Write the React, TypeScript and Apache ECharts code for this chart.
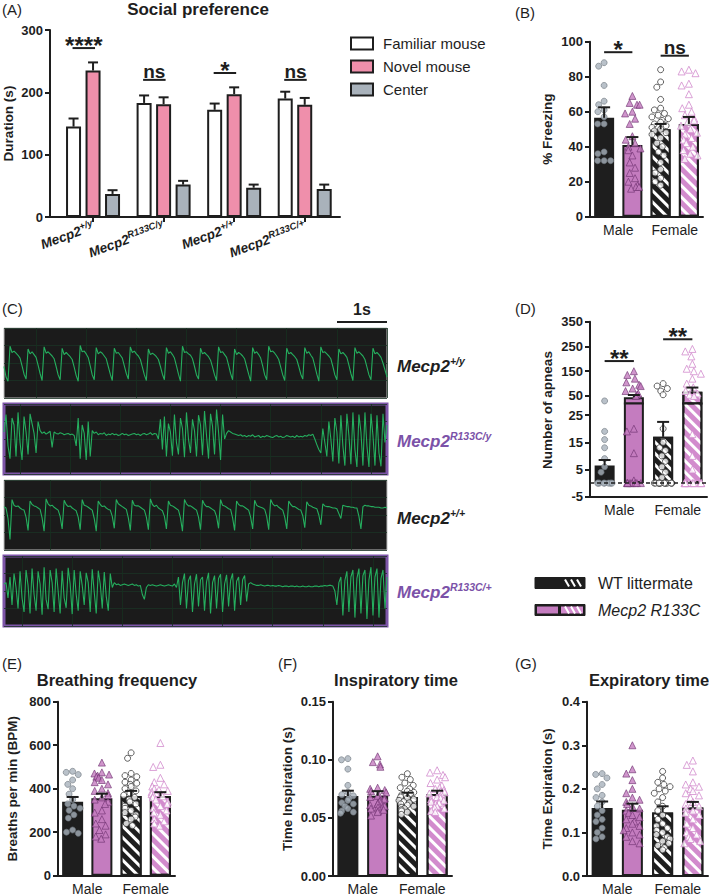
import React, { useEffect, useRef } from 'react';
import * as echarts from 'echarts';

const FONT = "'Liberation Sans', Arial, Helvetica, sans-serif";
const INK = '#1e1e1e';

// ---------------- Panel A : social preference ----------------
const genotypeSup = ['+/y', 'R133C/y', '+/+', 'R133C/+'];
const genotypeIdx = [0, 1, 2, 3];
const socialNames = ['Familiar mouse', 'Novel mouse', 'Center'];
const familiarMean = [145, 183, 172, 190];
const familiarTop = [158, 195, 182, 201];
const novelMean = [235, 181, 197, 180];
const novelTop = [248, 192, 208, 191];
const centerMean = [37, 52, 47, 45];
const centerTop = [43, 58, 52, 52];
const sigAGroup = [0, 1, 2, 3];
const sigAY = [271, 220, 231, 220];
const sigALabel = ['****', 'ns', '*', 'ns'];

// ---------------- shared group layout ----------------
const sexLabels = ['Male', 'Female'];
const groupOrder = ['WT male', 'R133C male', 'WT female', 'R133C female'];

// ---------------- Panel B : % freezing ----------------
const freezeMean = [56.5, 41, 50, 53];
const freezeTop = [62.5, 45.5, 53, 57];
const freezeWTm = [88, 86, 75, 66, 64, 61, 60, 57, 53, 53, 37, 36, 32, 32, 32];
const freezeMutM = [69, 65, 64, 64, 60, 59, 56, 53, 46, 44, 42, 40, 39, 38, 35, 31, 28, 25, 22, 20, 18, 17, 17, 16];
const freezeWTf = [84, 77, 74, 67, 62, 61, 59, 58, 57, 56, 55, 54, 53, 52, 51, 50, 49, 48, 47, 45, 42, 40, 37, 35, 31, 27, 25, 22, 20, 18];
const freezeMutF = [84, 83, 82, 76, 75, 70, 64, 62, 60, 58, 56, 55, 54, 52, 50, 48, 47, 45, 44, 42, 40, 38, 36, 35, 33];
const sigBFrom = [0, 2];
const sigBTo = [1, 3];
const sigBY = [94, 92];
const sigBLabel = ['*', 'ns'];

// ---------------- Panel D : apneas (broken axis) ----------------
const apneaMean = [6.5, 45, 17, 67];
const apneaTop = [8.5, 54, 22.5, 84];
const apneaWTm = [30, 19, 16, 13, 9, 6, 4, 0, 0, 0, 0, 0, 0, 0, 0, 0];
const apneaMutM = [150, 135, 120, 105, 95, 90, 80, 70, 60, 55, 50, 20, 19, 11, 1, 0, 0, 0, 0, 0, 0, 0, 0];
const apneaWTf = [100, 90, 80, 70, 55, 20, 15, 13, 12, 10, 8, 6, 4, 2, 0, 0, 0, 0, 0, 0, 0, 0, 0, 0, 0, 0, 0, 0, 0];
const apneaMutF = [240, 230, 210, 180, 160, 150, 140, 120, 100, 85, 70, 60, 55, 50, 18, 10, 5, 0, 0, 0, 0, 0, 0, 0, 0, 0, 0, 0];
const apneaLowTicks = [-5, 5, 15, 25];
const apneaHighTicks = [50, 150, 250, 350];
const sigDFrom = [0, 2];
const sigDTo = [1, 3];
const sigDY = [191, 279];
const sigDLabel = ['**', '**'];

// ---------------- Panel E : breathing frequency ----------------
const bpmMean = [340, 356, 366, 366];
const bpmTop = [362, 377, 390, 384];
const bpmWTm = [480, 475, 465, 440, 420, 400, 375, 350, 330, 320, 310, 300, 280, 265, 210, 200, 195];
const bpmMutM = [520, 475, 470, 465, 460, 455, 450, 440, 430, 420, 400, 390, 380, 370, 360, 350, 340, 330, 300, 290, 260, 240, 230, 210, 190, 180, 170];
const bpmWTf = [565, 540, 470, 460, 455, 440, 430, 425, 420, 410, 400, 390, 380, 370, 360, 350, 340, 330, 320, 310, 300, 290, 280, 270, 260, 240, 230];
const bpmMutF = [610, 510, 500, 450, 430, 420, 410, 400, 395, 390, 385, 380, 375, 370, 365, 360, 350, 340, 330, 320, 310, 300, 290, 280, 260, 250, 240, 230];

// ---------------- Panel F : inspiratory time ----------------
const tiMean = [0.0688, 0.069, 0.068, 0.0705];
const tiTop = [0.0734, 0.073, 0.0717, 0.0734];
const tiWTm = [0.101, 0.1, 0.092, 0.078, 0.072, 0.07, 0.069, 0.067, 0.065, 0.063, 0.062, 0.06, 0.058, 0.056, 0.055, 0.054];
const tiMutM = [0.103, 0.098, 0.096, 0.094, 0.076, 0.075, 0.074, 0.073, 0.072, 0.07, 0.069, 0.068, 0.067, 0.066, 0.065, 0.064, 0.063, 0.062, 0.061, 0.06, 0.059, 0.058, 0.057, 0.056, 0.055, 0.052];
const tiWTf = [0.088, 0.085, 0.083, 0.08, 0.078, 0.076, 0.075, 0.073, 0.072, 0.071, 0.07, 0.069, 0.068, 0.067, 0.066, 0.065, 0.064, 0.063, 0.062, 0.061, 0.06, 0.059, 0.058, 0.057, 0.056, 0.055, 0.053];
const tiMutF = [0.091, 0.089, 0.087, 0.085, 0.083, 0.08, 0.078, 0.076, 0.075, 0.074, 0.073, 0.072, 0.071, 0.07, 0.069, 0.068, 0.067, 0.066, 0.065, 0.064, 0.063, 0.062, 0.06, 0.059, 0.058, 0.056, 0.055];

// ---------------- Panel G : expiratory time ----------------
const teMean = [0.156, 0.152, 0.146, 0.157];
const teTop = [0.171, 0.166, 0.16, 0.17];
const teWTm = [0.235, 0.233, 0.225, 0.21, 0.2, 0.185, 0.18, 0.17, 0.16, 0.15, 0.14, 0.13, 0.125, 0.11, 0.1, 0.09, 0.085];
const teMutM = [0.3, 0.245, 0.235, 0.22, 0.2, 0.19, 0.18, 0.175, 0.17, 0.165, 0.16, 0.155, 0.15, 0.145, 0.14, 0.135, 0.13, 0.125, 0.12, 0.115, 0.11, 0.105, 0.1, 0.095, 0.09, 0.08, 0.075];
const teWTf = [0.24, 0.225, 0.215, 0.21, 0.205, 0.2, 0.195, 0.19, 0.18, 0.17, 0.16, 0.15, 0.14, 0.13, 0.12, 0.115, 0.11, 0.105, 0.1, 0.095, 0.09, 0.085, 0.08, 0.075, 0.07, 0.065, 0.06];
const teMutF = [0.265, 0.255, 0.24, 0.215, 0.21, 0.205, 0.2, 0.195, 0.19, 0.185, 0.18, 0.17, 0.165, 0.16, 0.155, 0.15, 0.145, 0.14, 0.13, 0.12, 0.11, 0.1, 0.095, 0.09, 0.085, 0.08, 0.075];

// ---------------- Panel C : plethysmography traces (40 ms samples) ----------------
const traceSup = ['+/y', 'R133C/y', '+/+', 'R133C/+'];
const traceWTm = [45, 30,
  24, 74, 65, 67, 64, 61, 57, 46, 34, 27, 70, 63, 66, 62, 58, 47, 35,
  25, 73, 64, 66, 63, 60, 56, 45, 33, 26, 71, 62, 65, 62, 59, 55, 44, 32,
  24, 75, 66, 67, 63, 58, 46, 33, 26, 72, 63, 66, 64, 60, 56, 45, 34,
  25, 71, 64, 65, 61, 57, 46, 35, 27, 73, 65, 67, 63, 60, 55, 44, 33,
  25, 70, 62, 64, 62, 59, 55, 45, 34, 26, 72, 64, 66, 62, 57, 46, 34,
  24, 74, 65, 66, 63, 61, 56, 45, 33, 27, 71, 63, 65, 62, 59, 54, 44, 33,
  25, 73, 65, 66, 62, 58, 47, 35, 26, 70, 62, 65, 63, 60, 56, 45, 34,
  24, 72, 64, 66, 62, 57, 46, 33, 26, 74, 66, 67, 64, 60, 55, 44, 33,
  25, 71, 63, 65, 62, 59, 55, 45, 34, 27, 72, 64, 66, 61, 57, 46, 34,
  24, 73, 65, 66, 63, 60, 56, 45, 33, 26, 70, 63, 65, 62, 58, 47, 35,
  25, 72, 64, 66, 63, 60, 55, 44, 33, 26, 71, 63, 65, 62, 58, 50, 40, 30];
const traceMutM = [60, 85, 40, 22, 80, 70, 25, 88, 45, 20, 82, 60, 28, 86, 72, 58, 30, 75, 62,
  58, 60, 57, 59, 61, 38, 60, 58, 57, 59, 58, 56, 57, 58, 56, 57, 55,
  40, 80, 22, 70, 58, 20, 75, 25, 62,
  58, 60, 56, 58, 57, 59, 55, 57, 56, 58, 56, 57, 55, 56, 58, 56, 57, 55, 56, 57, 58, 56, 57, 55, 57, 58, 56, 57, 59, 56, 58, 57,
  50, 78, 35, 82, 25, 72, 60, 26, 85, 45, 28, 80, 65, 24, 88, 50, 30, 78, 62, 25, 84, 70, 27, 90, 55, 22, 86, 68, 28, 92, 60, 20, 85, 50, 58, 62, 60,
  58, 57, 56, 55, 56, 54, 55, 53, 55, 54, 56, 53, 54, 55, 52, 54, 53, 55, 54, 53, 52, 54, 55, 53, 54, 52, 53, 55, 54, 53, 54, 52, 55, 53, 54, 53, 55, 54, 56, 55, 57,
  50, 42, 35, 30, 65, 45, 25, 75, 50, 18, 80, 60, 15, 84, 40, 12, 86, 55, 14, 88, 35, 10, 85, 60, 12, 88, 40, 10, 86, 55, 12, 84, 30, 11, 86, 45, 70];
const traceWTf = [62, 60,
  45, 15, 72, 64, 62, 63, 60, 58, 57, 47, 28, 70, 65, 63, 62, 60, 58,
  46, 27, 73, 66, 63, 64, 61, 59, 57, 48, 30, 71, 65, 62, 63, 60, 58, 56,
  47, 29, 72, 64, 63, 61, 59, 57, 45, 27, 70, 65, 62, 63, 60, 58, 57,
  48, 31, 72, 66, 64, 62, 60, 58, 46, 28, 71, 64, 63, 63, 61, 59, 57,
  47, 29, 73, 65, 62, 64, 60, 58, 56, 48, 30, 70, 64, 63, 61, 59, 57,
  46, 27, 72, 66, 63, 63, 61, 59, 57, 47, 29, 71, 65, 62, 62, 60, 58, 56,
  48, 31, 72, 64, 63, 61, 59, 58, 46, 28, 70, 65, 63, 63, 61, 59, 57,
  47, 30, 71, 64, 62, 61, 60, 58, 48, 29, 72, 66, 63, 64, 61, 59, 57,
  47, 30, 70, 65, 62, 62, 60, 58, 57, 49, 32, 69, 64, 63, 61, 60, 59,
  50, 36, 66, 63, 62, 62, 61, 60, 60, 59, 52, 45, 64, 63, 62, 62, 61, 61, 60, 60,
  48, 30, 62, 64, 63, 63, 62, 62, 61, 61, 61, 60, 60, 61, 60];
const traceMutF = [60, 62, 40, 70, 30, 75, 55, 25, 78, 40, 20, 80, 58, 18, 82, 45, 22, 78, 60, 16,
  84, 38, 24, 80, 62, 20, 82, 50, 18, 79, 40, 26, 83, 60, 17, 80, 45, 22, 78, 58,
  30, 76, 62, 20, 81, 48, 18, 79, 60, 25, 77, 42, 22, 75, 55, 62,
  59, 60, 58, 59, 60, 59, 58, 59, 60, 58, 59, 57, 58, 45, 38, 55, 59, 58, 59, 58, 57, 58, 59, 58, 57, 58, 59, 58, 57, 60,
  55, 70, 30, 62, 75, 25, 65, 72, 20, 60, 74, 28, 66, 70, 22, 63, 76, 18, 62, 72,
  25, 68, 74, 20, 60, 73, 28, 65, 75, 22, 64, 70, 30, 66, 72, 35, 60, 62,
  60, 59, 58, 58, 59, 58, 57, 58, 58, 57, 58, 57, 57, 58, 57, 56, 57, 57, 56, 57,
  57, 56, 57, 56, 56, 57, 56, 56, 57, 56, 56, 57, 57, 56, 57, 57, 58, 57, 58, 58, 57,
  50, 30, 62, 70, 15, 65, 78, 20, 70, 80, 12, 68, 82, 18, 72, 80, 10, 66, 84, 15,
  70, 82, 12, 68, 80, 25, 70];

// ---------------- styles ----------------
const STRIPES = { symbol: 'rect', symbolSize: 1, dashArrayX: [1, 0], dashArrayY: [3, 5], rotation: Math.PI / 4, color: '#ffffff' };
const BAR_STYLES: any[] = [
  { color: '#1e1e1e', borderColor: INK, borderWidth: 2 },
  { color: '#c47cbf', borderColor: INK, borderWidth: 2 },
  { color: '#1e1e1e', borderColor: INK, borderWidth: 2, decal: STRIPES },
  { color: '#d28bcd', borderColor: INK, borderWidth: 2, decal: STRIPES },
];
const DOT_STYLES: any[] = [
  { symbol: 'circle', symbolSize: 6, itemStyle: { color: '#a8b1bb', borderColor: '#6f7780', borderWidth: 0.8 } },
  { symbol: 'triangle', symbolSize: 7, itemStyle: { color: '#c47cbf', borderColor: '#6e3170', borderWidth: 0.8 } },
  { symbol: 'circle', symbolSize: 6, itemStyle: { color: '#ffffff', borderColor: '#3a3a3a', borderWidth: 1 } },
  { symbol: 'triangle', symbolSize: 7, itemStyle: { color: '#ffffff', borderColor: '#d28bcd', borderWidth: 1 } },
];
const A_COLORS = ['#ffffff', '#ef8fab', '#a9b2bb'];
const A_STEP = 19.5;
const TRACE_TOPS = [328, 404, 480, 556];
const TRACE_BORDER = ['#bdbdbd', '#7d55a8', '#bdbdbd', '#7d55a8'];
const TRACE_BW = [1, 3, 1, 3];
const TRACE_PHASE = [16, 8, 23, 9];
const TRACE_LABEL_Y = [365, 440, 517, 591];
const TRACE_LABEL_COLOR = [INK, '#7b52a8', INK, '#7b52a8'];

const AXIS_LINE = { show: true, onZero: false, lineStyle: { color: INK, width: 2 } };
const Y_TICK = { show: true, length: 5, lineStyle: { color: INK, width: 2 } };
const Y_LABEL = { fontFamily: FONT, fontSize: 13, fontWeight: 'bold', color: INK, margin: 7 };
const Y_NAME = { fontFamily: FONT, fontSize: 13.5, fontWeight: 'bold', color: INK };

const errRender = (cap: number) => (params: any, api: any) => {
  const x = api.value(0);
  const lo = api.value(1);
  const hi = api.value(2);
  const off = api.value(3) || 0;
  const p0 = api.coord([x, lo]);
  const p1 = api.coord([x, hi]);
  const cx = p0[0] + off;
  return {
    type: 'group',
    children: [
      { type: 'line', shape: { x1: cx, y1: p0[1], x2: cx, y2: p1[1] }, style: { stroke: INK, lineWidth: 2 } },
      { type: 'line', shape: { x1: cx - cap, y1: p1[1], x2: cx + cap, y2: p1[1] }, style: { stroke: INK, lineWidth: 2 } },
    ],
  };
};

const sigRender = (labels: string[]) => (params: any, api: any) => {
  const a = api.coord([api.value(0), api.value(2)]);
  const b = api.coord([api.value(1), api.value(2)]);
  const xa = a[0] + (api.value(4) || 0);
  const xb = b[0] + (api.value(5) || 0);
  const label = labels[api.value(3)];
  const star = label.indexOf('*') >= 0;
  return {
    type: 'group',
    children: [
      { type: 'line', shape: { x1: xa, y1: a[1], x2: xb, y2: a[1] }, style: { stroke: INK, lineWidth: 2 } },
      {
        type: 'text',
        style: {
          text: label, x: (xa + xb) / 2, y: a[1] - (star ? 3 : 8),
          textAlign: 'center', textVerticalAlign: 'middle', align: 'center', verticalAlign: 'middle',
          font: `bold ${star ? 24 : 19}px ${FONT}`, fill: INK,
        },
      },
    ],
  };
};

function addPanel(o: any, p: any) {
  const gi = o.grid.length;
  o.grid.push({ left: p.left, top: p.top, width: p.width, height: p.height });
  const xi = o.xAxis.length;
  o.xAxis.push({
    gridIndex: gi, type: 'category', data: groupOrder, position: 'bottom',
    jitter: p.jitter, jitterOverlap: false, jitterMargin: 0.5,
    axisLine: { show: false }, axisTick: { show: false }, axisLabel: { show: false }, splitLine: { show: false },
  });
  if (p.sexAxis) {
    o.xAxis.push({
      gridIndex: gi, type: 'category', data: sexLabels, position: 'bottom',
      axisLine: AXIS_LINE, axisTick: { show: false },
      axisLabel: { interval: 0, fontFamily: FONT, fontSize: 14, color: INK, margin: 6 },
      splitLine: { show: false },
    });
  }
  const yi = o.yAxis.length;
  const y: any = {
    gridIndex: gi, type: 'value', min: p.min, max: p.max,
    axisLine: AXIS_LINE,
    axisTick: { ...Y_TICK },
    axisLabel: { ...Y_LABEL },
    splitLine: { show: false },
  };
  if (p.interval != null) y.interval = p.interval;
  if (p.ticks) {
    y.axisTick.customValues = p.ticks;
    y.axisLabel.customValues = p.ticks;
  }
  if (p.fmt) y.axisLabel.formatter = p.fmt;
  if (p.name) {
    y.name = p.name;
    y.nameLocation = 'middle';
    y.nameRotate = 90;
    y.nameGap = p.nameGap;
    y.nameTextStyle = Y_NAME;
  }
  o.yAxis.push(y);

  o.series.push({
    type: 'bar', xAxisIndex: xi, yAxisIndex: yi, barWidth: p.barWidth, silent: true, z: 2,
    data: p.bars.map((v: any, i: number) => ({ value: v, itemStyle: BAR_STYLES[i] })),
  });
  p.dots.forEach((arr: number[], g: number) => {
    o.series.push({
      type: 'scatter', xAxisIndex: xi, yAxisIndex: yi, silent: true, z: 3,
      symbol: DOT_STYLES[g].symbol, symbolSize: DOT_STYLES[g].symbolSize, itemStyle: DOT_STYLES[g].itemStyle,
      data: arr.filter(p.dotFilter || (() => true)).map((v) => [g, v]),
    });
  });
  if (p.err.length) {
    o.series.push({ type: 'custom', xAxisIndex: xi, yAxisIndex: yi, silent: true, z: 4, data: p.err, renderItem: errRender(p.cap) });
  }
  if (p.sig) {
    o.series.push({ type: 'custom', xAxisIndex: xi, yAxisIndex: yi, silent: true, z: 4, data: p.sig.rows, renderItem: sigRender(p.sig.labels) });
  }
  if (p.zeroLine) {
    o.series.push({
      type: 'line', xAxisIndex: xi, yAxisIndex: yi, data: [], silent: true,
      markLine: { silent: true, symbol: 'none', label: { show: false }, lineStyle: { color: INK, type: [4, 3], width: 1.5 }, data: [{ yAxis: 0 }] },
    });
  }
  return { xi, yi };
}

function buildOption() {
  const o: any = { grid: [], xAxis: [], yAxis: [], series: [] };

  // ---------- Panel A ----------
  o.grid.push({ left: 50, top: 30, width: 290, height: 187 });
  o.xAxis.push({
    gridIndex: 0, type: 'value', min: -0.61, max: 3.5, position: 'bottom',
    axisLine: AXIS_LINE,
    splitLine: { show: false },
    axisTick: { show: true, customValues: genotypeIdx, length: 5, lineStyle: { color: INK, width: 2 } },
    axisLabel: {
      customValues: genotypeIdx, rotate: 20, margin: 8,
      formatter: (v: number) => `{m|Mecp2}{s|${genotypeSup[Math.round(v)]}}`,
      rich: {
        m: { fontFamily: FONT, fontSize: 13.5, fontWeight: 'bold', fontStyle: 'italic', color: INK, lineHeight: 16, verticalAlign: 'bottom' },
        s: { fontFamily: FONT, fontSize: 9.5, fontWeight: 'bold', fontStyle: 'italic', color: INK, lineHeight: 10, verticalAlign: 'top' },
      },
    },
  });
  o.yAxis.push({
    gridIndex: 0, type: 'value', min: 0, max: 300, interval: 100,
    axisLine: AXIS_LINE, axisTick: Y_TICK, axisLabel: Y_LABEL, splitLine: { show: false },
    name: 'Duration (s)', nameLocation: 'middle', nameRotate: 90, nameGap: 35, nameTextStyle: Y_NAME,
  });
  const aMeans = [familiarMean, novelMean, centerMean];
  const aTops = [familiarTop, novelTop, centerTop];
  const aErr: any[] = [];
  aMeans.forEach((m, k) => {
    o.series.push({
      type: 'bar', name: socialNames[k], xAxisIndex: 0, yAxisIndex: 0, barWidth: 15, barGap: '30%', silent: true,
      data: m.map((v, g) => [genotypeIdx[g], v]), itemStyle: { color: A_COLORS[k], borderColor: INK, borderWidth: 2 },
    });
    m.forEach((v, g) => aErr.push([genotypeIdx[g], v, aTops[k][g], (k - 1) * A_STEP]));
  });
  o.series.push({ type: 'custom', xAxisIndex: 0, yAxisIndex: 0, silent: true, z: 4, data: aErr, renderItem: errRender(5) });
  o.series.push({
    type: 'custom', xAxisIndex: 0, yAxisIndex: 0, silent: true, z: 4,
    data: sigAGroup.map((g, i) => [g, g, sigAY[i], i, -A_STEP - 1, 2]),
    renderItem: sigRender(sigALabel),
  });

  // ---------- Panel B ----------
  addPanel(o, {
    left: 590, top: 41.7, width: 113, height: 175, min: 0, max: 100, interval: 20,
    name: '% Freezing', nameGap: 36, sexAxis: true, jitter: 18, barWidth: 20, cap: 6,
    bars: freezeMean,
    dots: [freezeWTm, freezeMutM, freezeWTf, freezeMutF],
    err: freezeMean.map((m, i) => [i, m, freezeTop[i]]),
    sig: { rows: sigBFrom.map((f, i) => [f, sigBTo[i], sigBY[i], i]), labels: sigBLabel },
  });

  // ---------- Panel D (broken axis) ----------
  const BREAK = 29.3;
  addPanel(o, {
    left: 590, top: 321.7, width: 117, height: 81.7, min: 20, max: 350, ticks: apneaHighTicks,
    sexAxis: false, jitter: 18, barWidth: 20, cap: 6,
    bars: apneaMean.map((m) => (m > BREAK ? m : '-')),
    dots: [apneaWTm, apneaMutM, apneaWTf, apneaMutF],
    dotFilter: (v: number) => v >= BREAK,
    err: apneaMean.map((m, i) => [i, m, apneaTop[i]]).filter((r) => r[1] > BREAK),
    sig: { rows: sigDFrom.map((f, i) => [f, sigDTo[i], sigDY[i], i]), labels: sigDLabel },
  });
  addPanel(o, {
    left: 590, top: 403.4, width: 117, height: 93.3, min: -5, max: BREAK, ticks: apneaLowTicks,
    sexAxis: true, jitter: 18, barWidth: 20, cap: 6,
    bars: apneaMean,
    dots: [apneaWTm, apneaMutM, apneaWTf, apneaMutF],
    dotFilter: (v: number) => v < BREAK,
    err: apneaMean.map((m, i) => [i, m, apneaTop[i]]).filter((r) => r[2] < BREAK),
    zeroLine: true,
  });

  // ---------- Panel E ----------
  addPanel(o, {
    left: 58, top: 701.7, width: 117, height: 174, min: 0, max: 800, interval: 200,
    name: 'Breaths per min (BPM)', nameGap: 39, sexAxis: true, jitter: 18, barWidth: 21, cap: 6,
    bars: bpmMean,
    dots: [bpmWTm, bpmMutM, bpmWTf, bpmMutF],
    err: bpmMean.map((m, i) => [i, m, bpmTop[i]]),
  });
  // ---------- Panel F ----------
  addPanel(o, {
    left: 333, top: 701.7, width: 119, height: 174.3, min: 0, max: 0.15, interval: 0.05,
    fmt: (v: number) => v.toFixed(2),
    name: 'Time Inspiration (s)', nameGap: 39, sexAxis: true, jitter: 18, barWidth: 21, cap: 6,
    bars: tiMean,
    dots: [tiWTm, tiMutM, tiWTf, tiMutF],
    err: tiMean.map((m, i) => [i, m, tiTop[i]]),
  });
  // ---------- Panel G ----------
  addPanel(o, {
    left: 587, top: 701.7, width: 121, height: 175, min: 0, max: 0.4, interval: 0.1,
    fmt: (v: number) => v.toFixed(1),
    name: 'Time Expiration (s)', nameGap: 33, sexAxis: true, jitter: 18, barWidth: 21, cap: 6,
    bars: teMean,
    dots: [teWTm, teMutM, teWTf, teMutF],
    err: teMean.map((m, i) => [i, m, teTop[i]]),
  });

  // ---------- Panel C traces ----------
  [traceWTm, traceMutM, traceWTf, traceMutF].forEach((data, k) => {
    const gi = o.grid.length;
    o.grid.push({
      left: 4, top: TRACE_TOPS[k], width: 383, height: 70, show: true,
      backgroundColor: '#1b1b1b', borderColor: TRACE_BORDER[k], borderWidth: TRACE_BW[k],
    });
    const xi = o.xAxis.length;
    o.xAxis.push({
      gridIndex: gi, type: 'category', boundaryGap: false, data: data.map((_, i) => i),
      axisLine: { show: false }, axisTick: { show: false }, axisLabel: { show: false },
      splitLine: { show: true, interval: (i: number) => (i - TRACE_PHASE[k]) % 25 === 0, lineStyle: { color: '#173020', width: 0.8 } },
    });
    const yi = o.yAxis.length;
    o.yAxis.push({
      gridIndex: gi, type: 'value', min: 0, max: 100, interval: 25,
      axisLine: { show: false }, axisTick: { show: false }, axisLabel: { show: false },
      splitLine: { show: true, lineStyle: { color: '#1a3224', width: 0.8 } },
    });
    o.series.push({
      type: 'line', xAxisIndex: xi, yAxisIndex: yi, data, symbol: 'none', silent: true, z: 3,
      lineStyle: { color: '#25ae5e', width: 1.1 },
    });
  });

  // ---------- legend A ----------
  o.legend = {
    data: socialNames, orient: 'vertical', left: 345, top: 31, icon: 'rect',
    itemWidth: 22, itemHeight: 12, itemGap: 8, selectedMode: false,
    textStyle: { fontFamily: FONT, fontSize: 15, color: INK, lineHeight: 15, padding: [0, 0, 0, 5] },
  };

  // ---------- graphic texts ----------
  const g: any[] = [];
  const txt = (text: string, x: number, y: number, font: string, align = 'left', fill = INK, extra: any = {}) => ({
    type: 'text', x, y, silent: true, ...extra,
    style: { text, font, fill, textAlign: align, align, textVerticalAlign: 'middle', verticalAlign: 'middle' },
  });
  const letterFont = `15px ${FONT}`;
  g.push(txt('(A)', 2, 9, letterFont));
  g.push(txt('(B)', 515, 12, letterFont));
  g.push(txt('(C)', 2, 308, letterFont));
  g.push(txt('(D)', 515, 308, letterFont));
  g.push(txt('(E)', 2, 663, letterFont));
  g.push(txt('(F)', 278, 663, letterFont));
  g.push(txt('(G)', 515, 663, letterFont));
  g.push(txt('Social preference', 198, 9, `bold 17px ${FONT}`, 'center'));
  g.push(txt('Breathing frequency', 117, 680, `bold 16.5px ${FONT}`, 'center'));
  g.push(txt('Inspiratory time', 396, 680, `bold 16.5px ${FONT}`, 'center'));
  g.push(txt('Expiratory time', 649, 680, `bold 16.5px ${FONT}`, 'center'));
  g.push(txt('Number of apneas', 547, 410, `bold 13.5px ${FONT}`, 'center', INK, { rotation: Math.PI / 2 }));

  // scale bar
  g.push({ type: 'line', silent: true, shape: { x1: 337, y1: 322, x2: 387, y2: 322 }, style: { stroke: INK, lineWidth: 2 } });
  g.push(txt('1s', 362, 309, `bold 16px ${FONT}`, 'center'));

  // trace labels
  traceSup.forEach((sup, k) => {
    g.push({
      type: 'text', x: 397, y: TRACE_LABEL_Y[k], silent: true,
      style: {
        text: `{m|Mecp2}{s|${sup}}`, textVerticalAlign: 'middle', verticalAlign: 'middle',
        rich: {
          m: { fontFamily: FONT, fontSize: 17, fontWeight: 'bold', fontStyle: 'italic', fill: TRACE_LABEL_COLOR[k], lineHeight: 20, verticalAlign: 'bottom' },
          s: { fontFamily: FONT, fontSize: 10.5, fontWeight: 'bold', fontStyle: 'italic', fill: TRACE_LABEL_COLOR[k], lineHeight: 12, verticalAlign: 'top' },
        },
      },
    });
  });

  // genotype legend (B–G)
  const hatch = (x0: number, y0: number) => [0, 6, 12].map((d) => ({
    type: 'line', silent: true, shape: { x1: x0 + d, y1: y0, x2: x0 + d + 4, y2: y0 + 7 }, style: { stroke: '#ffffff', lineWidth: 2 },
  }));
  g.push({ type: 'rect', silent: true, shape: { x: 535, y: 577.5, width: 50, height: 11 }, style: { fill: '#1e1e1e', stroke: INK, lineWidth: 1 } });
  hatch(565, 579.5).forEach((h) => g.push(h));
  g.push({ type: 'rect', silent: true, shape: { x: 535, y: 604.5, width: 50, height: 11 }, style: { fill: INK, stroke: INK, lineWidth: 1 } });
  g.push({ type: 'rect', silent: true, shape: { x: 537, y: 606.5, width: 21, height: 7 }, style: { fill: '#c47cbf' } });
  g.push({ type: 'rect', silent: true, shape: { x: 561, y: 606.5, width: 22, height: 7 }, style: { fill: '#d28bcd' } });
  hatch(565, 606.5).forEach((h) => g.push(h));
  g.push(txt('WT littermate', 598, 583, `16px ${FONT}`));
  g.push(txt('Mecp2 R133C', 598, 610, `italic 16px ${FONT}`));

  o.graphic = g;
  o.animation = false;
  o.backgroundColor = '#ffffff';
  return o;
}

export default function App() {
  const ref = useRef<HTMLDivElement>(null);
  useEffect(() => {
    const chart = echarts.init(ref.current as HTMLDivElement, null, { renderer: 'svg' });
    chart.setOption(buildOption());
    return () => chart.dispose();
  }, []);
  return <div ref={ref} style={{ position: 'absolute', left: 0, top: 0, width: 709, height: 896, background: '#fff' }} />;
}
